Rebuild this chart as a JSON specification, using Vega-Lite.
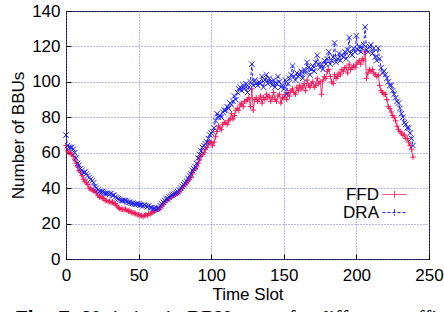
{
"$schema":"https://vega.github.io/schema/vega-lite/v6.json",
"width":363,"height":248,
"autosize":"none",
"padding":{"left":66,"top":11,"right":15,"bottom":53},
"background":"white",
"config":{"view":{"stroke":"black","strokeWidth":1},"font":"Liberation Sans"},
"title":{"text":"Fig. 7:","subtitle":"\u200b\u00a0\u00a0\u00a0\u00a0\u00a0\u00a0\u00a0\u00a0\u00a0\u00a0\u00a0\u00a0\u00a0Variation in BBU usage for different traffic loads","orient":"bottom","anchor":"start","frame":"group","font":"Liberation Sans","fontSize":21,"fontWeight":"bold","color":"black","subtitleFont":"Liberation Serif","subtitleFontSize":21,"subtitleFontWeight":"normal","subtitleColor":"black","subtitlePadding":-21,"dx":-51,"offset":6},
"data":{"values":[
{"t":0,"FFD":64,"DRA":70},{"t":1,"FFD":61,"DRA":64},{"t":2,"FFD":60,"DRA":63},{"t":3,"FFD":60,"DRA":63},{"t":4,"FFD":59,"DRA":63},{"t":5,"FFD":58,"DRA":62},{"t":6,"FFD":56,"DRA":60},{"t":7,"FFD":54,"DRA":57},{"t":8,"FFD":52,"DRA":54},{"t":9,"FFD":50,"DRA":53},
{"t":10,"FFD":49,"DRA":51},{"t":11,"FFD":47,"DRA":50},{"t":12,"FFD":45,"DRA":49},{"t":13,"FFD":44,"DRA":49},{"t":14,"FFD":43,"DRA":48},{"t":15,"FFD":42,"DRA":47},{"t":16,"FFD":40,"DRA":46},{"t":17,"FFD":39.5,"DRA":45},{"t":18,"FFD":39,"DRA":44},{"t":19,"FFD":38.5,"DRA":43},
{"t":20,"FFD":38,"DRA":41},{"t":21,"FFD":37.5,"DRA":40},{"t":22,"FFD":36,"DRA":39},{"t":23,"FFD":35,"DRA":38},{"t":24,"FFD":35,"DRA":38},{"t":25,"FFD":34.5,"DRA":38},{"t":26,"FFD":34,"DRA":37.5},{"t":27,"FFD":33,"DRA":37},{"t":28,"FFD":33,"DRA":37},{"t":29,"FFD":32.5,"DRA":37},
{"t":30,"FFD":32.5,"DRA":36.5},{"t":31,"FFD":32,"DRA":37},{"t":32,"FFD":32,"DRA":36},{"t":33,"FFD":31.5,"DRA":36},{"t":34,"FFD":31,"DRA":35},{"t":35,"FFD":30,"DRA":34.5},{"t":36,"FFD":29,"DRA":34},{"t":37,"FFD":28.5,"DRA":33.5},{"t":38,"FFD":28,"DRA":33},{"t":39,"FFD":28,"DRA":33},
{"t":40,"FFD":28,"DRA":33},{"t":41,"FFD":28,"DRA":33},{"t":42,"FFD":27.5,"DRA":32.5},{"t":43,"FFD":27,"DRA":32},{"t":44,"FFD":27,"DRA":32},{"t":45,"FFD":26.5,"DRA":31.5},{"t":46,"FFD":26,"DRA":31.5},{"t":47,"FFD":26,"DRA":31},{"t":48,"FFD":25.5,"DRA":31},{"t":49,"FFD":25,"DRA":31},
{"t":50,"FFD":25,"DRA":31},{"t":51,"FFD":24.5,"DRA":30.5},{"t":52,"FFD":24.5,"DRA":30.5},{"t":53,"FFD":24,"DRA":30},{"t":54,"FFD":24.5,"DRA":30.5},{"t":55,"FFD":25,"DRA":30},{"t":56,"FFD":24.5,"DRA":29.5},{"t":57,"FFD":25.5,"DRA":30},{"t":58,"FFD":25.5,"DRA":29},{"t":59,"FFD":26,"DRA":29},
{"t":60,"FFD":26.5,"DRA":28.5},{"t":61,"FFD":27,"DRA":28.5},{"t":62,"FFD":27.5,"DRA":28},{"t":63,"FFD":28,"DRA":28.5},{"t":64,"FFD":28,"DRA":29},{"t":65,"FFD":29,"DRA":30},{"t":66,"FFD":30,"DRA":31},{"t":67,"FFD":31,"DRA":32},{"t":68,"FFD":32,"DRA":33},{"t":69,"FFD":33,"DRA":34},
{"t":70,"FFD":33.5,"DRA":34},{"t":71,"FFD":34,"DRA":35},{"t":72,"FFD":35,"DRA":35.5},{"t":73,"FFD":35.5,"DRA":36},{"t":74,"FFD":36,"DRA":36.5},{"t":75,"FFD":36.5,"DRA":37},{"t":76,"FFD":37,"DRA":37.5},{"t":77,"FFD":37,"DRA":38},{"t":78,"FFD":38,"DRA":39},{"t":79,"FFD":39,"DRA":40},
{"t":80,"FFD":40,"DRA":41},{"t":81,"FFD":41,"DRA":42},{"t":82,"FFD":42,"DRA":43},{"t":83,"FFD":43,"DRA":44},{"t":84,"FFD":44,"DRA":45.5},{"t":85,"FFD":45,"DRA":47},{"t":86,"FFD":46,"DRA":48},{"t":87,"FFD":48,"DRA":50},{"t":88,"FFD":50,"DRA":51},{"t":89,"FFD":51,"DRA":52},
{"t":90,"FFD":52,"DRA":54},{"t":91,"FFD":54,"DRA":57},{"t":92,"FFD":56,"DRA":59},{"t":93,"FFD":58,"DRA":61},{"t":94,"FFD":59,"DRA":63},{"t":95,"FFD":60,"DRA":64},{"t":96,"FFD":62,"DRA":65},{"t":97,"FFD":63,"DRA":66},{"t":98,"FFD":65,"DRA":68},{"t":99,"FFD":66,"DRA":70},
{"t":100,"FFD":66,"DRA":71},{"t":101,"FFD":64,"DRA":72},{"t":102,"FFD":66,"DRA":74},{"t":103,"FFD":69,"DRA":78},{"t":104,"FFD":72,"DRA":82},{"t":105,"FFD":75,"DRA":80},{"t":106,"FFD":74,"DRA":81},{"t":107,"FFD":73,"DRA":80},{"t":108,"FFD":76,"DRA":83},{"t":109,"FFD":77,"DRA":84},
{"t":110,"FFD":77,"DRA":84},{"t":111,"FFD":76,"DRA":86},{"t":112,"FFD":78,"DRA":85},{"t":113,"FFD":79,"DRA":88},{"t":114,"FFD":82,"DRA":87},{"t":115,"FFD":79,"DRA":89},{"t":116,"FFD":81,"DRA":92},{"t":117,"FFD":84,"DRA":90},{"t":118,"FFD":85,"DRA":94},{"t":119,"FFD":84,"DRA":96},
{"t":120,"FFD":87,"DRA":97},{"t":121,"FFD":88,"DRA":95},{"t":122,"FFD":86,"DRA":98},{"t":123,"FFD":89,"DRA":96},{"t":124,"FFD":89,"DRA":99},{"t":125,"FFD":90,"DRA":94},{"t":126,"FFD":91,"DRA":97},{"t":127,"FFD":86,"DRA":100},{"t":128,"FFD":96,"DRA":110},{"t":129,"FFD":84,"DRA":98},
{"t":130,"FFD":90,"DRA":101},{"t":131,"FFD":91,"DRA":99},{"t":132,"FFD":89,"DRA":98},{"t":133,"FFD":90,"DRA":100},{"t":134,"FFD":92,"DRA":99},{"t":135,"FFD":88,"DRA":103},{"t":136,"FFD":91,"DRA":97},{"t":137,"FFD":90,"DRA":101},{"t":138,"FFD":93,"DRA":104},{"t":139,"FFD":91,"DRA":99},
{"t":140,"FFD":92,"DRA":102},{"t":141,"FFD":89,"DRA":100},{"t":142,"FFD":91,"DRA":98},{"t":143,"FFD":94,"DRA":101},{"t":144,"FFD":90,"DRA":97},{"t":145,"FFD":89,"DRA":99},{"t":146,"FFD":92,"DRA":103},{"t":147,"FFD":93,"DRA":100},{"t":148,"FFD":88,"DRA":97},{"t":149,"FFD":91,"DRA":98},
{"t":150,"FFD":91,"DRA":96},{"t":151,"FFD":93,"DRA":101},{"t":152,"FFD":90,"DRA":93},{"t":153,"FFD":94,"DRA":99},{"t":154,"FFD":92,"DRA":102},{"t":155,"FFD":95,"DRA":104},{"t":156,"FFD":96,"DRA":109},{"t":157,"FFD":94,"DRA":103},{"t":158,"FFD":93,"DRA":101},{"t":159,"FFD":97,"DRA":105},
{"t":160,"FFD":95,"DRA":103},{"t":161,"FFD":98,"DRA":104},{"t":162,"FFD":96,"DRA":106},{"t":163,"FFD":97,"DRA":102},{"t":164,"FFD":99,"DRA":107},{"t":165,"FFD":95,"DRA":105},{"t":166,"FFD":101,"DRA":111},{"t":167,"FFD":98,"DRA":108},{"t":168,"FFD":97,"DRA":104},{"t":169,"FFD":99,"DRA":107},
{"t":170,"FFD":100,"DRA":109},{"t":171,"FFD":97,"DRA":106},{"t":172,"FFD":98,"DRA":111},{"t":173,"FFD":102,"DRA":115},{"t":174,"FFD":99,"DRA":110},{"t":175,"FFD":100,"DRA":108},{"t":176,"FFD":93,"DRA":110},{"t":177,"FFD":101,"DRA":107},{"t":178,"FFD":103,"DRA":112},{"t":179,"FFD":102,"DRA":110},
{"t":180,"FFD":106,"DRA":113},{"t":181,"FFD":107,"DRA":117},{"t":182,"FFD":103,"DRA":110},{"t":183,"FFD":100,"DRA":112},{"t":184,"FFD":99,"DRA":114},{"t":185,"FFD":104,"DRA":122},{"t":186,"FFD":102,"DRA":111},{"t":187,"FFD":103,"DRA":113},{"t":188,"FFD":105,"DRA":116},{"t":189,"FFD":104,"DRA":112},
{"t":190,"FFD":107,"DRA":115},{"t":191,"FFD":106,"DRA":114},{"t":192,"FFD":108,"DRA":117},{"t":193,"FFD":108,"DRA":113},{"t":194,"FFD":105,"DRA":118},{"t":195,"FFD":110,"DRA":125},{"t":196,"FFD":107,"DRA":116},{"t":197,"FFD":108,"DRA":115},{"t":198,"FFD":109,"DRA":119},{"t":199,"FFD":108,"DRA":117},
{"t":200,"FFD":110,"DRA":126},{"t":201,"FFD":111,"DRA":118},{"t":202,"FFD":112,"DRA":120},{"t":203,"FFD":110,"DRA":117},{"t":204,"FFD":113,"DRA":119},{"t":205,"FFD":112,"DRA":121},{"t":206,"FFD":117,"DRA":131},{"t":207,"FFD":102,"DRA":118},{"t":208,"FFD":105,"DRA":117},{"t":209,"FFD":107,"DRA":120},
{"t":210,"FFD":106,"DRA":121},{"t":211,"FFD":107,"DRA":116},{"t":212,"FFD":105,"DRA":119},{"t":213,"FFD":104,"DRA":114},{"t":214,"FFD":103,"DRA":112},{"t":215,"FFD":104,"DRA":119},{"t":216,"FFD":98,"DRA":113},{"t":217,"FFD":95,"DRA":108},{"t":218,"FFD":94,"DRA":105},{"t":219,"FFD":93,"DRA":106},
{"t":220,"FFD":93,"DRA":104},{"t":221,"FFD":90,"DRA":102},{"t":222,"FFD":86,"DRA":100},{"t":223,"FFD":85,"DRA":98},{"t":224,"FFD":83,"DRA":98},{"t":225,"FFD":81,"DRA":95},{"t":226,"FFD":80,"DRA":93},{"t":227,"FFD":78,"DRA":91},{"t":228,"FFD":75,"DRA":89},{"t":229,"FFD":73,"DRA":88},
{"t":230,"FFD":72,"DRA":85},{"t":231,"FFD":71,"DRA":82},{"t":232,"FFD":70,"DRA":80},{"t":233,"FFD":70,"DRA":77},{"t":234,"FFD":68,"DRA":76},{"t":235,"FFD":68,"DRA":74},{"t":236,"FFD":66,"DRA":74},{"t":237,"FFD":64,"DRA":71},{"t":238,"FFD":62,"DRA":68},{"t":239,"FFD":57.5,"DRA":64}
]},
"transform":[{"fold":["FFD","DRA"],"as":["series","value"]}],
"encoding":{
"x":{"field":"t","type":"quantitative","scale":{"domain":[0,250],"nice":false},
"axis":{"title":"Time Slot","values":[0,50,100,150,200,250],"domain":false,"grid":true,"gridColor":"#6f6fff","gridDash":[1,2],"gridWidth":1,"ticks":true,"tickSize":-5,"tickColor":"black","labelPadding":13,"labelFontSize":17,"labelColor":"black","labelFont":"Liberation Sans","titleFontSize":17,"titleFont":"Liberation Sans","titleFontWeight":"normal","titleColor":"black","titlePadding":3,"labelFlush":false}},
"y":{"field":"value","type":"quantitative","scale":{"domain":[0,140],"nice":false},
"axis":{"title":"Number of BBUs","values":[0,20,40,60,80,100,120,140],"domain":false,"grid":true,"gridColor":"#6f6fff","gridDash":[1,2],"gridWidth":1,"ticks":true,"tickSize":-5,"tickColor":"black","labelPadding":11,"labelFontSize":17,"labelColor":"black","labelFont":"Liberation Sans","titleFontSize":17,"titleFont":"Liberation Sans","titleFontWeight":"normal","titleColor":"black","titlePadding":4,"labelFlush":false}}
},
"layer":[
{"mark":{"type":"line","strokeWidth":1},"encoding":{
"color":{"field":"series","type":"nominal","scale":{"domain":["FFD","DRA"],"range":["#ee1a5a","#2020f0"]},
"legend":{"title":null,"orient":"none","legendX":320,"legendY":175,"symbolType":"M-3,0H3M0,-0.8V0.8","symbolSize":64,"symbolStrokeWidth":1,"labelAlign":"right","labelOffset":-24,"labelFontSize":17,"labelFont":"Liberation Sans","labelColor":"black","rowPadding":0,"padding":0}},
"strokeDash":{"field":"series","type":"nominal","scale":{"domain":["FFD","DRA"],"range":[[1,0],[3,2]]},"legend":{"title":null,"orient":"none","legendX":320,"legendY":175,"symbolType":"M-3,0H3M0,-0.8V0.8","symbolSize":64,"symbolStrokeWidth":1,"labelAlign":"right","labelOffset":-24,"labelFontSize":17,"labelFont":"Liberation Sans","labelColor":"black","rowPadding":0,"padding":0}}}},
{"transform":[{"filter":"datum.series === 'FFD'"}],"mark":{"type":"point","filled":false,"strokeWidth":1,"size":30,"opacity":1,"color":"#ee1a5a","shape":"M-1,0H1M0,-1V1"}},
{"transform":[{"filter":"datum.series === 'DRA'"}],"mark":{"type":"point","filled":false,"strokeWidth":1,"size":30,"opacity":1,"color":"#2020f0","shape":"M-1,-1L1,1M-1,1L1,-1"}}
]
}
